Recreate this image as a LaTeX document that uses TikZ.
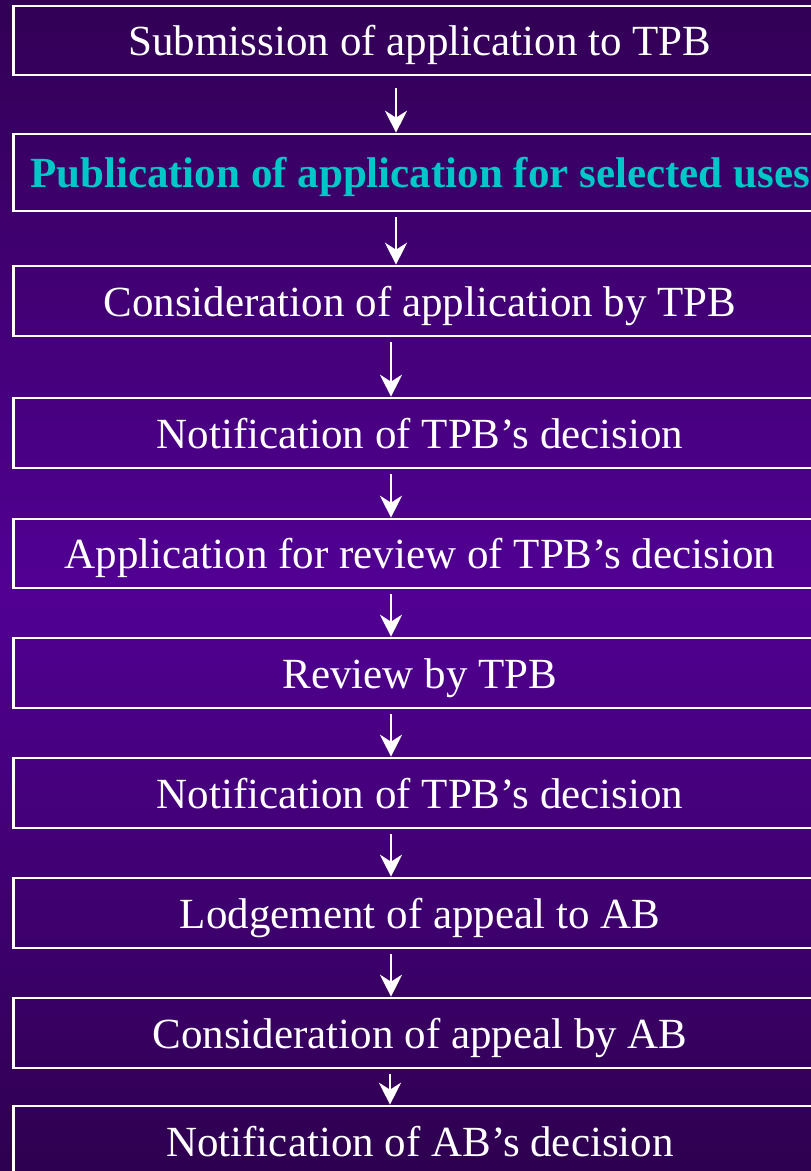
\documentclass[tikz,border=0pt]{standalone}
\usepackage{fontspec}
\setmainfont{Liberation Serif}
\usetikzlibrary{arrows.meta}
\definecolor{bgtop}{RGB}{50,0,86}
\definecolor{bgmid}{RGB}{82,0,148}
\definecolor{bgbot}{RGB}{46,0,80}
\definecolor{cyantext}{RGB}{0,200,200}
\tikzset{
  stepbox/.style={draw=white, line width=2.6pt, minimum width=813pt, inner sep=0pt,
    text height=38pt, text depth=8pt,
    text=white, font=\fontsize{43}{50}\selectfont},
  arr/.style={draw=white, line width=2.6pt, -{Stealth[length=22pt,width=22pt,inset=7pt]}}
}
\begin{document}
\begin{tikzpicture}[x=1pt,y=-1pt]
\useasboundingbox (0,0) rectangle (811,1171);
\clip (0,0) rectangle (811,1171);
\foreach \i in {0,...,117}{
  \pgfmathtruncatemacro{\yy}{\i*10}
  \ifnum\yy<586
    \pgfmathtruncatemacro{\pc}{\yy/5.85}
    \fill[bgmid!\pc!bgtop] (0,\yy) rectangle (811,\yy+11);
  \else
    \pgfmathtruncatemacro{\pc}{(1171-\yy)/5.86}
    \fill[bgmid!\pc!bgbot] (0,\yy) rectangle (811,\yy+11);
  \fi
}
\node[stepbox, minimum height=69pt] (b1) at (420,40.5) {Submission of application to TPB};
\node[stepbox, minimum height=77pt, text=cyantext, font=\fontsize{43}{50}\selectfont\bfseries] (b2) at (420,172.5) {Publication of application for selected uses};
\node[stepbox, minimum height=70pt] (b3) at (420,301) {Consideration of application by TPB};
\node[stepbox, minimum height=70pt] (b4) at (420,433) {Notification of TPB’s decision};
\node[stepbox, minimum height=69pt] (b5) at (420,553.5) {Application for review of TPB’s decision};
\node[stepbox, minimum height=70pt] (b6) at (420,673) {Review by TPB};
\node[stepbox, minimum height=70pt] (b7) at (420,793) {Notification of TPB’s decision};
\node[stepbox, minimum height=70pt] (b8) at (420,913) {Lodgement of appeal to AB};
\node[stepbox, minimum height=70pt] (b9) at (420,1033) {Consideration of appeal by AB};
\node[stepbox, minimum height=70pt] (b10) at (420,1141) {Notification of AB’s decision};
\draw[arr] ([xshift=-24pt,yshift=-12pt]b1.south) -- ([xshift=-24pt]b2.north);
\draw[arr] ([xshift=-24pt,yshift=-5pt]b2.south) -- ([xshift=-24pt]b3.north);
\draw[arr] ([xshift=-29pt,yshift=-5pt]b3.south) -- ([xshift=-29pt]b4.north);
\draw[arr] ([xshift=-29pt,yshift=-5pt]b4.south) -- ([xshift=-29pt]b5.north);
\draw[arr] ([xshift=-29pt,yshift=-5pt]b5.south) -- ([xshift=-29pt]b6.north);
\draw[arr] ([xshift=-29pt,yshift=-5pt]b6.south) -- ([xshift=-29pt]b7.north);
\draw[arr] ([xshift=-29pt,yshift=-5pt]b7.south) -- ([xshift=-29pt]b8.north);
\draw[arr] ([xshift=-29pt,yshift=-5pt]b8.south) -- ([xshift=-29pt]b9.north);
\draw[arr] ([xshift=-30pt,yshift=-5pt]b9.south) -- ([xshift=-30pt]b10.north);
\end{tikzpicture}
\end{document}
